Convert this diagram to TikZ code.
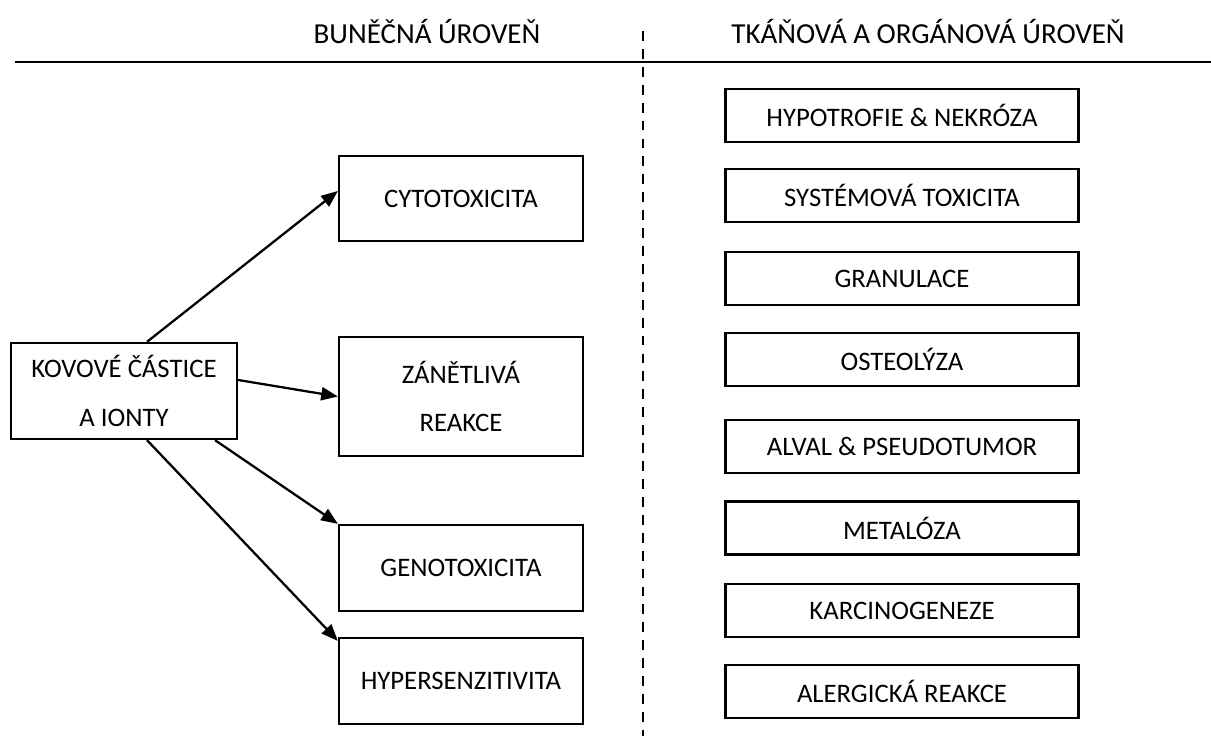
\documentclass[tikz,border=0pt]{standalone}
\usepackage{fontspec}
\setmainfont{Carlito}
\usetikzlibrary{arrows.meta}
\usetikzlibrary{calc}

\tikzset{
	box/.style={draw, line width=1.3pt, inner sep=0pt, align=center, font=\fontsize{15.2}{27.5}\selectfont},
	leftbox/.style={box, minimum width=4.88cm, minimum height=1.72cm},
	rightbox/.style={box, minimum width=7.06cm, minimum height=1.06cm},
	arr/.style={-{Triangle[length=9.5pt,width=7.5pt]}, line width=1.3pt},
}

\begin{document}
\begin{tikzpicture}[x=0.02cm, y=-0.02cm]
		\useasboundingbox (0,0) rectangle (1211,736);
		
		\draw [line width=1.4pt] (15,62) -- (1211,62); % Vodorovná čára
		\draw [line width=1.6pt, dash pattern=on 5.6pt off 4.6pt] (643,31) -- (643,736); % Dělicí čára
		
		\node [font=\fontsize{16.5}{19}\selectfont] (bunecna) at (427,32) {BUNĚČNÁ ÚROVEŇ};
		\node [font=\fontsize{16.5}{19}\selectfont] (tkanova) at (928,32) {TKÁŇOVÁ A ORGÁNOVÁ ÚROVEŇ};
		
		% Buněčná úroveň
		\node [box, minimum width=4.52cm, minimum height=1.92cm] (kovove) at (124,391) {KOVOVÉ ČÁSTICE\\A IONTY};
		\node [leftbox, minimum height=1.7cm] (cyto) at (461,198.5) {CYTOTOXICITA};
		\node [leftbox, minimum height=2.38cm] (zanet) at (461,396.5) {ZÁNĚTLIVÁ\\REAKCE};
		\node [leftbox] (geno) at (461,568) {GENOTOXICITA};
		\node [leftbox] (hyper) at (461,681) {HYPERSENZITIVITA};
		
		\draw [arr] ($(kovove.north)+(23,0)$) -- ($(cyto.west)+(0,-7.5)$);
		\draw [arr] ($(kovove.east)+(0,-11)$) -- (zanet.west);
		\draw [arr] ($(kovove.south)+(91,0)$) -- (geno.north west);
		\draw [arr] ($(kovove.south)+(23,0)$) -- ($(hyper.north west)+(0,4)$);
		
		% Tkáňová a orgánová úroveň
		\node [rightbox] (hypo) at (902,115.5) {HYPOTROFIE \& NEKRÓZA};
		\node [rightbox] (syst) at (902,195.5) {SYSTÉMOVÁ TOXICITA};
		\node [rightbox] (gran) at (902,278.5) {GRANULACE};
		\node [rightbox] (osteo) at (902,359.5) {OSTEOLÝZA};
		\node [rightbox] (alval) at (902,446.5) {ALVAL \& PSEUDOTUMOR};
		\node [rightbox] (metal) at (902,528) {METALÓZA};
		\node [rightbox] (karc) at (902,610.5) {KARCINOGENEZE};
		\node [rightbox] (alerg) at (902,691.5) {ALERGICKÁ REAKCE};
	\end{tikzpicture}
\end{document}
